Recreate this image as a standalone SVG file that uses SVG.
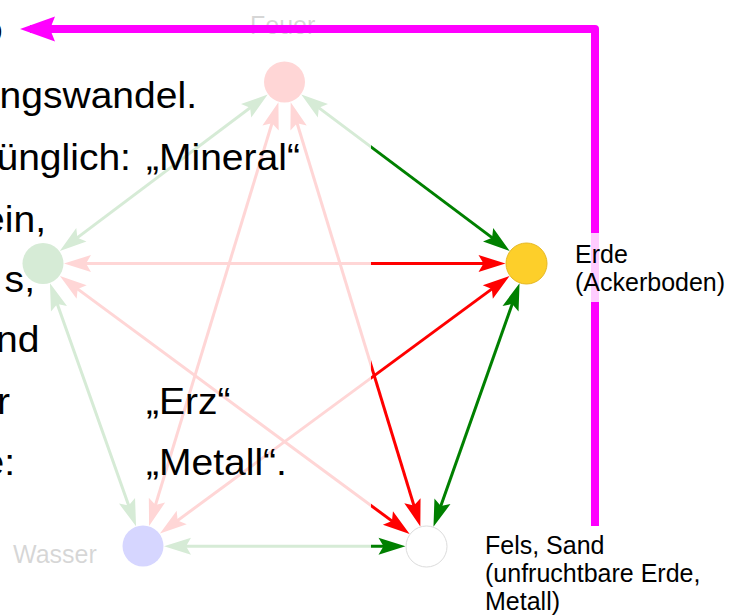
<svg xmlns="http://www.w3.org/2000/svg" width="731" height="616" viewBox="0 0 731 616">
<style>
.e{fill:none;stroke-width:3}
.g{stroke:#008000;marker-start:url(#ag);marker-end:url(#ag)}
.r{stroke:#ff0000;marker-start:url(#ar);marker-end:url(#ar)}
.lbl{font-family:"Liberation Sans",Arial,sans-serif;font-size:25px;fill:#000}
.big{font-family:"Liberation Sans",Arial,sans-serif;font-size:36.5px;fill:#000}
</style>
<defs>
<marker id="ag" markerUnits="userSpaceOnUse" markerWidth="28" markerHeight="18" refX="17" refY="8.5" orient="auto-start-reverse" overflow="visible"><path d="M0,0 L27,8.5 L0,17 L5,8.5 Z" fill="#008000"/></marker>
<marker id="ar" markerUnits="userSpaceOnUse" markerWidth="28" markerHeight="18" refX="17" refY="8.5" orient="auto-start-reverse" overflow="visible"><path d="M0,0 L27,8.5 L0,17 L5,8.5 Z" fill="#ff0000"/></marker>
<marker id="am" markerUnits="userSpaceOnUse" markerWidth="36" markerHeight="26" refX="25" refY="12.5" orient="auto" overflow="visible"><path d="M0,0 L35,12.5 L0,25 L5,12.5 Z" fill="#ff00ff"/></marker>
</defs>
<rect width="731" height="616" fill="#fff"/>
<g id="connectors">
<path class="e g" d="M309.3,100.6 L501.7,244.9"/>
<path class="e g" d="M516.2,292.7 L436.8,517.3"/>
<path class="e g" d="M395.5,546.3 L174,546.3"/>
<path class="e g" d="M132.7,516.8 L53.3,292.7"/>
<path class="e g" d="M67.8,244.9 L259.7,100.6"/>
<path class="e r" d="M293.6,111.7 L417.4,516.9"/>
<path class="e r" d="M275.5,111.7 L152,516.4"/>
<path class="e r" d="M74,263.5 L495.5,263.5"/>
<path class="e r" d="M68,281.9 L401.6,528.1"/>
<path class="e r" d="M168,527.6 L501.5,281.9"/>
</g>
<g id="feuer"><circle cx="284.5" cy="82" r="20.5" fill="#ff0000"/><text class="lbl" x="250" y="34">Feuer</text></g>
<g id="holz"><circle cx="43" cy="263.5" r="20.5" fill="#008000"/></g>
<g id="wasser"><circle cx="143" cy="546" r="20.5" fill="#0000ff"/><text class="lbl" x="13" y="563">Wasser</text></g>
<rect id="fade" x="0" y="0" width="371" height="616" fill="#fff" fill-opacity="0.84"/>
<g id="erde"><circle cx="526.5" cy="263.5" r="20.5" fill="#fdcf2a" stroke="#e6b822" stroke-width="1"/></g>
<g id="fels"><circle cx="426.5" cy="546.5" r="20.5" fill="#fff" stroke="#dcdcdc" stroke-width="1"/>
<text class="lbl" x="485" y="554">Fels, Sand</text><text class="lbl" x="485" y="582">(unfruchtbare Erde,</text><text class="lbl" x="485" y="610">Metall)</text></g>
<g id="text" transform="scale(1.07 1)">
<text class="big" x="2.6" y="42" text-anchor="end">o</text>
<text class="big" x="184.1" y="108" text-anchor="end">ngswandel.</text>
<text class="big" x="122.4" y="170" text-anchor="end">ünglich:</text>
<text class="big" x="136.4" y="170">„Mineral“</text>
<text class="big" x="43" y="232" text-anchor="end">ein,</text>
<text class="big" x="32.7" y="292" text-anchor="end">s,</text>
<text class="big" x="36.9" y="352" text-anchor="end">nd</text>
<text class="big" x="9.3" y="414" text-anchor="end">r</text>
<text class="big" x="136.4" y="414">„Erz“</text>
<text class="big" x="14" y="475" text-anchor="end">e:</text>
<text class="big" x="136.4" y="475">„Metall“.</text>
</g>
<g id="cycle-arrow"><path d="M595,526 L595,29 L30,29" fill="none" stroke="#ff00ff" stroke-width="8" stroke-linejoin="round" marker-end="url(#am)"/></g>
<g id="erde-label"><rect x="571" y="233" width="160" height="69" fill="#fff" fill-opacity="0.8"/>
<text class="lbl" x="575" y="263">Erde</text><text class="lbl" x="575" y="291">(Ackerboden)</text></g>
</svg>
